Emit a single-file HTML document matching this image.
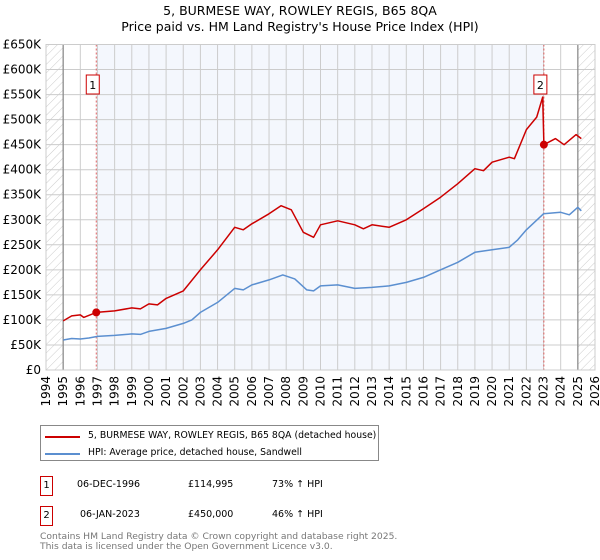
<!DOCTYPE html>
<html><head><meta charset="utf-8"><style>
body{margin:0;background:#fff;font-family:"DejaVu Sans","Liberation Sans",sans-serif;}
#wrap{position:relative;width:600px;height:560px;overflow:hidden;}
.t{position:absolute;font-size:12px;color:#000;white-space:nowrap;}
</style></head><body><div id="wrap">
<div class="t" style="left:0;width:600px;text-align:center;top:3px;font-size:12.5px;">5, BURMESE WAY, ROWLEY REGIS, B65 8QA</div>
<div class="t" style="left:0;width:600px;text-align:center;top:19px;font-size:12.5px;">Price paid vs. HM Land Registry's House Price Index (HPI)</div>
<svg id="svg" width="600" height="420" style="position:absolute;left:0;top:0">
<defs><pattern id="hatch" width="6" height="6" patternUnits="userSpaceOnUse" patternTransform="rotate(45)"><line x1="0" y1="0" x2="0" y2="6" stroke="#ccc" stroke-width="1"/></pattern></defs>
</svg>
<div style="position:absolute;left:40px;top:425px;width:337px;height:34px;border:1px solid #888;">
<div style="position:absolute;left:4px;top:4px;"><span style="position:absolute;top:6px;left:0;width:35px;height:2px;background:#cc0000"></span><span class="t" style="left:43px;top:0;font-size:9.3px">5, BURMESE WAY, ROWLEY REGIS, B65 8QA (detached house)</span></div>
<div style="position:absolute;left:4px;top:21px;"><span style="position:absolute;top:6px;left:0;width:35px;height:2px;background:#5b8fd0"></span><span class="t" style="left:43px;top:0;font-size:9.3px">HPI: Average price, detached house, Sandwell</span></div>
</div>
<div>
<div class="t" style="left:40px;top:476px;width:11px;height:18px;border:1px solid #cc0000;text-align:center;font-size:10px;line-height:18px">1</div>
<div class="t" style="left:77px;top:479px;font-size:9.5px">06-DEC-1996</div>
<div class="t" style="left:188px;top:479px;font-size:9.5px">£114,995</div>
<div class="t" style="left:272px;top:479px;font-size:9.5px">73% ↑ HPI</div></div>
<div>
<div class="t" style="left:40px;top:506px;width:11px;height:18px;border:1px solid #cc0000;text-align:center;font-size:10px;line-height:18px">2</div>
<div class="t" style="left:80px;top:509px;font-size:9.5px">06-JAN-2023</div>
<div class="t" style="left:188px;top:509px;font-size:9.5px">£450,000</div>
<div class="t" style="left:272px;top:509px;font-size:9.5px">46% ↑ HPI</div></div>
<div class="t" style="left:40px;top:532px;font-size:9.2px;color:#777;line-height:10px">Contains HM Land Registry data © Crown copyright and database right 2025.<br>This data is licensed under the Open Government Licence v3.0.</div>
</div>
<script>
const hpiYears=[1995,1995.5,1996,1996.5,1997,1998,1999,1999.5,2000,2001,2002,2002.5,2003,2004,2005,2005.5,2006,2007,2007.8,2008.5,2009.2,2009.6,2010,2011,2012,2013,2014,2015,2016,2017,2018,2019,2020,2021,2021.5,2022,2023,2024,2024.5,2025,2025.2];
const hpiValues=[60000,63000,62000,64000,67000,69000,72000,71000,77000,83000,93000,100000,115000,135000,163000,160000,170000,180000,190000,182000,160000,158000,168000,170000,163000,165000,168000,175000,185000,200000,215000,235000,240000,245000,260000,280000,312000,315000,310000,325000,318000];
const priceYears=[1995,1995.5,1996,1996.2,1996.93,1998,1999,1999.5,2000,2000.5,2001,2002,2003,2004,2005,2005.5,2006,2007,2007.7,2008.3,2009,2009.6,2010,2011,2012,2012.5,2013,2014,2015,2016,2017,2018,2019,2019.5,2020,2021,2021.3,2022,2022.6,2022.95,2023.02,2023.7,2024.2,2024.9,2025.2];
const priceValues=[98000,108000,110000,105000,114995,118000,124000,122000,132000,130000,143000,158000,200000,240000,285000,280000,292000,312000,328000,320000,275000,265000,290000,298000,290000,282000,290000,285000,300000,322000,345000,372000,402000,398000,415000,425000,422000,480000,505000,545000,450000,462000,450000,470000,462000];
const saleYears=[1996.93,2023.02];
const saleValues=[114995,450000];
const yTicks=[0,50000,100000,150000,200000,250000,300000,350000,400000,450000,500000,550000,600000,650000];
const yLabels=["£0","£50K","£100K","£150K","£200K","£250K","£300K","£350K","£400K","£450K","£500K","£550K","£600K","£650K"];
const xYears=[];for(let y=1994;y<=2026;y++)xYears.push(y);
const X=y=>46+(y-1994)*(549/32), Y=v=>370-v*(325.5/650000);
const svg=document.getElementById('svg'),NS='http://www.w3.org/2000/svg';
function mk(t,a,p){const e=document.createElementNS(NS,t);for(const k in a)e.setAttribute(k,a[k]);(p||svg).appendChild(e);return e;}
let r=mk('rect',{x:X(1994),y:Y(650000),width:X(2026)-X(1994),height:Y(0)-Y(650000),fill:'#fff'});
r=mk('rect',{x:X(saleYears[0]),y:Y(650000),width:X(saleYears[1])-X(saleYears[0]),height:Y(0)-Y(650000),fill:'#f4f7fd'});

r=mk('rect',{x:X(1994),y:Y(650000),width:X(1995)-X(1994),height:Y(0)-Y(650000),fill:'url(#hatch)'});

r=mk('rect',{x:X(2025),y:Y(650000),width:X(2026)-X(2025),height:Y(0)-Y(650000),fill:'url(#hatch)'});

for(let i=0;i<yTicks.length;i++){const l=mk('line',{x1:X(1994),x2:X(2026),y1:Y(yTicks[i]),y2:Y(yTicks[i]),stroke:'#ccc'});

const t=mk('text',{x:41,y:Y(yTicks[i])+4,'text-anchor':'end','font-size':12,'font-family':'DejaVu Sans,Liberation Sans,sans-serif'});t.textContent=yLabels[i];
}
for(const y of xYears){const l=mk('line',{x1:X(y),x2:X(y),y1:Y(650000),y2:Y(0),stroke:'#ccc'});

const t=mk('text',{x:0,y:0,'text-anchor':'end','font-size':12,'font-family':'DejaVu Sans,Liberation Sans,sans-serif',transform:`translate(${X(y)+4},376) rotate(-90)`});t.textContent=y;
}
[1995,2025].forEach(y=>{const l=mk('line',{x1:X(y),x2:X(y),y1:Y(650000),y2:Y(0),stroke:'#888','stroke-width':1.2});});
saleYears.forEach((y,i)=>{const l=mk('line',{x1:X(y),x2:X(y),y1:Y(650000),y2:Y(0),stroke:'#e06060','stroke-dasharray':'2,2'});});
function path(xs,vs,c,name){let d='';xs.forEach((x,i)=>d+=(i?'L':'M')+X(x).toFixed(1)+','+Y(vs[i]).toFixed(1));const p=mk('path',{d,fill:'none',stroke:c,'stroke-width':1.5,'stroke-linejoin':'round'});}
path(hpiYears,hpiValues,'#5b8fd0','hpi-line');
path(priceYears,priceValues,'#cc0000','price-line');
saleYears.forEach((y,i)=>{const c=mk('circle',{cx:X(y),cy:Y(saleValues[i]),r:4,fill:'#cc0000'});
const g=mk('g',{});
mk('rect',{x:X(y)-10,y:75,width:13,height:19,fill:'#fff',stroke:'#cc0000'},g);
const t=mk('text',{x:X(y)-3.5,y:89,'text-anchor':'middle','font-size':11,'font-family':'DejaVu Sans,sans-serif'},g);t.textContent=i+1;});
r=mk('rect',{x:X(1994),y:Y(650000),width:X(2026)-X(1994),height:Y(0)-Y(650000),fill:'none',stroke:'#ccc'});
</script></body></html>
